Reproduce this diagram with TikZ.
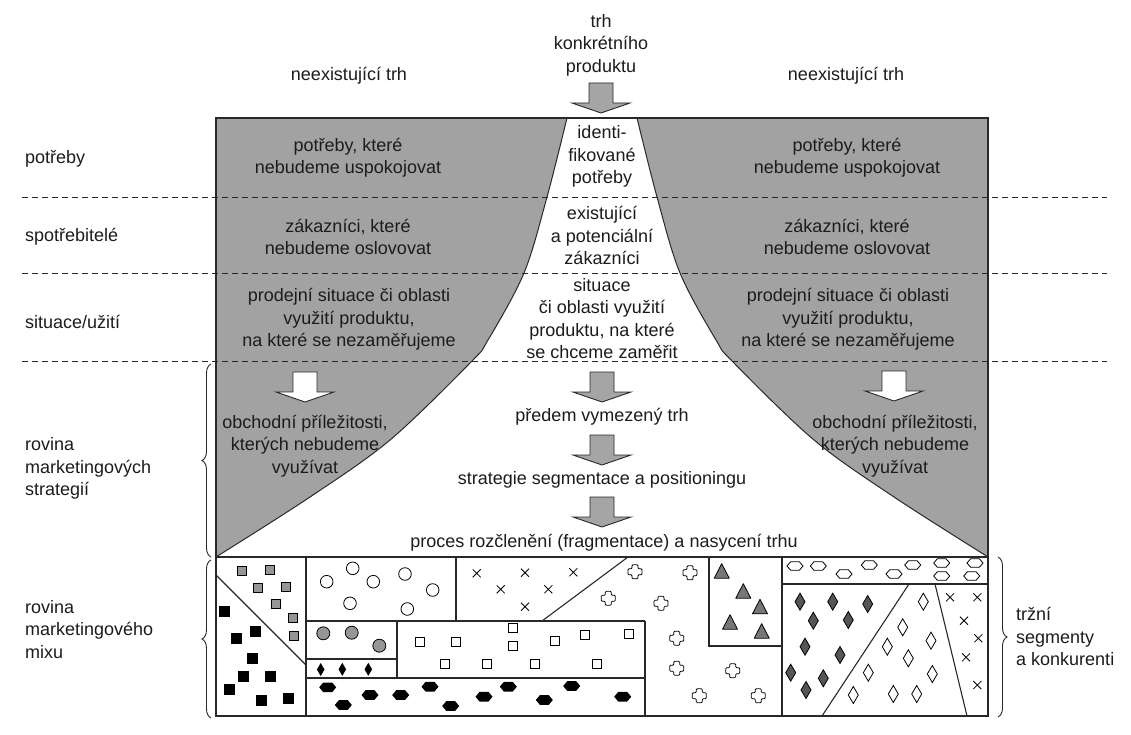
\documentclass[tikz,border=0pt]{standalone}
\usepackage{fontspec}
\setmainfont{Liberation Sans}
\usetikzlibrary{decorations.pathreplacing}
\definecolor{regiongray}{RGB}{162,162,162}
\definecolor{ink}{RGB}{28,28,28}
\definecolor{linecol}{RGB}{40,40,40}
\definecolor{markgray}{RGB}{150,150,150}
\definecolor{darkmark}{RGB}{85,85,85}
\definecolor{arrowgray}{RGB}{165,165,165}
\tikzset{
  mk/.style={draw=black, line width=0.8pt},
  gsq/.pic={\draw[mk, fill=markgray] (-4.5,-4.5) rectangle (4.5,4.5);},
  bsq/.pic={\draw[mk, fill=black] (-5,-5) rectangle (5,5);},
  osq/.pic={\draw[mk, fill=white] (-4.5,-4.5) rectangle (4.5,4.5);},
  ocirc/.pic={\draw[mk, fill=white] (0,0) circle [radius=6.3pt];},
  gcirc/.pic={\draw[mk, fill=markgray] (0,0) circle [radius=6.5pt];},
  bdia/.pic={\fill[black] (0,-6.5) -- (3.8,0) -- (0,6.5) -- (-3.8,0) -- cycle;},
  bhex/.pic={\fill[black] (-8.5,0) -- (-4.5,-4.8) -- (4.5,-4.8) -- (8.5,0) -- (4.5,4.8) -- (-4.5,4.8) -- cycle;},
  ohex/.pic={\draw[mk, fill=white] (-8,0) -- (-4.3,-4.3) -- (4.3,-4.3) -- (8,0) -- (4.3,4.3) -- (-4.3,4.3) -- cycle;},
  xmk/.pic={\draw[draw=black, line width=0.8pt] (-4,-4) -- (4,4) (-4,4) -- (4,-4);},
  pluscr/.pic={\draw[mk, fill=white, rounded corners=1pt] (-3,-7) -- (3,-7) -- (3,-3) -- (7,-3) -- (7,3) -- (3,3) -- (3,7) -- (-3,7) -- (-3,3) -- (-7,3) -- (-7,-3) -- (-3,-3) -- cycle;},
  tri/.pic={\draw[mk, fill=darkmark!80!white, line join=round] (0,-8) -- (7.5,6.5) -- (-7.5,6.5) -- cycle;},
  gdia/.pic={\draw[mk, fill=darkmark] (0,-8.5) -- (5,0) -- (0,8.5) -- (-5,0) -- cycle;},
  odia/.pic={\draw[mk, fill=white] (0,-8.5) -- (5,0) -- (0,8.5) -- (-5,0) -- cycle;},
  darrow/.pic={\path[pic actions] (-12,0) -- (12,0) -- (12,20) -- (29,20) -- (0,30) -- (-29,20) -- (-12,20) -- cycle;},
}
\begin{document}
\begin{tikzpicture}[x=1pt,y=-1pt,
  txt/.style={font=\fontsize{18}{22.5}\selectfont, text=ink, align=center, inner sep=0pt},
  ltxt/.style={txt, align=left, anchor=west},
  frame/.style={draw=linecol, line width=1.1pt},
  curve/.style={draw=linecol, line width=1pt},
  guide/.style={draw=linecol, line width=0.9pt, dash pattern=on 6pt off 4pt},
  brc/.style={draw=linecol, line width=0.9pt, decorate, decoration={brace, amplitude=9pt}},
  grayarrow/.style={draw=linecol, line width=0.9pt, fill=arrowgray},
  whitearrow/.style={draw=linecol, line width=0.9pt, fill=white},
]
\useasboundingbox[fill=white] (0,0) rectangle (1131,735);

% gray region and white funnel
\fill[regiongray] (216,118) rectangle (988,557);
\fill[white] plot[smooth, tension=0.55] coordinates {(567,118) (547,197) (524,273) (488,340) (471,362) (390,440) (310,497) (216,557)}
  -- plot[smooth, tension=0.55] coordinates {(988,557) (894,497) (814,440) (733,362) (716,340) (680,273) (657,197) (637,118)} -- cycle;
\draw[curve] plot[smooth, tension=0.55] coordinates {(567,118) (547,197) (524,273) (488,340) (471,362) (390,440) (310,497) (216,557)};
\draw[curve] plot[smooth, tension=0.55] coordinates {(988,557) (894,497) (814,440) (733,362) (716,340) (680,273) (657,197) (637,118)};
\draw[frame] (216,557) -- (216,118) -- (988,118) -- (988,557);

% dashed level lines
\draw[guide] (22,197) -- (1107,197);
\draw[guide] (22,273) -- (1107,273);
\draw[guide] (22,361) -- (1107,361);

% top texts
\node[txt] (market) at (601,45) {trh\\konkrétního\\produktu};
\node[txt] (nonL) at (349,76) {neexistující trh};
\node[txt] (nonR) at (846,76) {neexistující trh};

% left labels
\node[ltxt] (lPot) at (25,159) {potřeby};
\node[ltxt] (lSpo) at (25,237) {spotřebitelé};
\node[ltxt] (lSit) at (25,322) {situace/užití};
\node[ltxt] (lStr) at (25,468.5) {rovina\\marketingových\\strategií};
\node[ltxt] (lMix) at (25,629.5) {rovina\\marketingového\\mixu};

% gray region texts
\node[txt] (potL) at (348,157.5) {potřeby, které\\nebudeme uspokojovat};
\node[txt] (potR) at (847,157.5) {potřeby, které\\nebudeme uspokojovat};
\node[txt] (zakL) at (348,237) {zákazníci, které\\nebudeme oslovovat};
\node[txt] (zakR) at (847,237) {zákazníci, které\\nebudeme oslovovat};
\node[txt] (sitL) at (349,319.5) {prodejní situace či oblasti\\využití produktu,\\na které se nezaměřujeme};
\node[txt] (sitR) at (848,319.5) {prodejní situace či oblasti\\využití produktu,\\na které se nezaměřujeme};
\node[txt] (obL) at (305,446) {obchodní příležitosti,\\kterých nebudeme\\využívat};
\node[txt] (obR) at (895,446) {obchodní příležitosti,\\kterých nebudeme\\využívat};

% funnel texts
\node[txt] (cPot) at (602,156.5) {identi-\\fikované\\potřeby};
\node[txt] (cZak) at (602,235.5) {existující\\a potenciální\\zákazníci};
\node[txt] (cSit) at (602,318.5) {situace\\či oblasti využití\\produktu, na které\\se chceme zaměřit};
\node[txt] (cTrh) at (602,417) {předem vymezený trh};
\node[txt] (cStr) at (602,480) {strategie segmentace a positioningu};
\node[txt] (cPro) at (604,543) {proces rozčlenění (fragmentace) a nasycení trhu};

% block arrows
\pic[grayarrow] at (601,83) {darrow};
\pic[grayarrow] at (602,372) {darrow};
\pic[grayarrow] at (602,435) {darrow};
\pic[grayarrow] at (602,497) {darrow};
\pic[whitearrow] at (305,372) {darrow};
\pic[whitearrow] at (894,371) {darrow};

% bottom grid
\draw[frame] (216,557) rectangle (988,716);
\draw[frame] (306,557) -- (306,716);
\draw[frame] (216,575) -- (306,665);
\draw[frame] (306,621) -- (645,621);
\draw[frame] (456,557) -- (456,621);
\draw[frame] (542,621) -- (628,557);
\draw[frame] (397,621) -- (397,678);
\draw[frame] (306,659) -- (397,659);
\draw[frame] (306,678) -- (645,678);
\draw[frame] (645,621) -- (645,716);
\draw[frame] (709,557) -- (709,646) -- (782,646);
\draw[frame] (782,557) -- (782,716);
\draw[frame] (782,584) -- (988,584);
\draw[frame] (822,716) -- (909,584);
\draw[frame] (935,584) -- (967,716);

% markers
\foreach \x/\y in {241.7/570.7, 270/570, 258.3/588.3, 286/587.3, 275.7/604, 293.3/617.7, 294.3/635.7}
  \pic at (\x,\y) {gsq};
\foreach \x/\y in {224/611.7, 255/631.7, 236/638.3, 252.7/658.3, 243.3/676, 270/676.7, 229.3/689.3, 261.7/700.7, 288.3/698.3}
  \pic at (\x,\y) {bsq};
\foreach \x/\y in {326.7/581.7, 352.7/568.3, 373.3/581.7, 405/574, 432.7/590, 350/603.3, 407.3/609}
  \pic at (\x,\y) {ocirc};
\foreach \x/\y in {323.3/633.3, 351.7/632.7, 379.3/645.7}
  \pic at (\x,\y) {gcirc};
\foreach \x/\y in {320.7/669.5, 342.3/669.3, 368.3/669.3}
  \pic at (\x,\y) {bdia};
\foreach \x/\y in {327.7/687.3, 343.3/705, 370/695, 400.7/695, 430/686.7, 450.7/706, 484/696.7, 508.3/686.7, 544.3/700, 571.7/686, 622.7/696.7}
  \pic at (\x,\y) {bhex};
\foreach \x/\y in {420/641.7, 455.7/641.7, 445/664, 513.3/628.3, 513.3/645.7, 555.3/641, 585/635, 629/634, 486.7/664, 535/664, 597.3/664}
  \pic at (\x,\y) {osq};
\foreach \x/\y in {476.7/573.3, 525/572.7, 573.3/572.3, 500.7/589.3, 548.3/589.3, 525/606.7, 950/597.3, 977.3/597.3, 964/620.7, 978.3/638.3, 966/657.3, 977.3/685}
  \pic at (\x,\y) {xmk};
\foreach \x/\y in {635/571.7, 690/572.7, 608.3/598.3, 661/603.3, 676.7/638.3, 676.7/668.3, 732.7/670.7, 699.3/695.7, 758.3/695.7}
  \pic at (\x,\y) {pluscr};
\foreach \x/\y in {721.7/571.7, 743.3/591.7, 760/607.3, 730/622.7, 761.7/631.7}
  \pic at (\x,\y) {tri};
\foreach \x/\y in {795/566, 818.3/566, 844/574, 869.3/565, 894/574, 912.7/565, 941.7/563, 941.7/576, 975/563, 971.7/576}
  \pic at (\x,\y) {ohex};
\foreach \x/\y in {800/601.7, 832.7/601.7, 867.7/604, 813.3/620.7, 848.3/620, 805/646.7, 840/655, 790.7/672.7, 823.3/678.3, 806/690}
  \pic at (\x,\y) {gdia};
\foreach \x/\y in {923.3/601.7, 902.7/627.3, 931/640.7, 887.3/646.7, 908.3/658.3, 868.3/672.7, 932.3/674, 853.3/695, 893.3/694, 916.7/694}
  \pic at (\x,\y) {odia};

% braces and right label
\coordinate (bsTop) at (211,364);
\coordinate (bsBot) at (211,557);
\coordinate (bmTop) at (211,560);
\coordinate (bmBot) at (211,718);
\draw[brc] (bsBot) -- (bsTop);
\draw[brc] (bmBot) -- (bmTop);
\coordinate (brTop) at (998,557);
\coordinate (brBot) at (998,717);
\draw[brc] (brTop) -- (brBot);
\node[ltxt] (segm) at (1016,636.5) {tržní\\segmenty\\a konkurenti};
\end{tikzpicture}
\end{document}
